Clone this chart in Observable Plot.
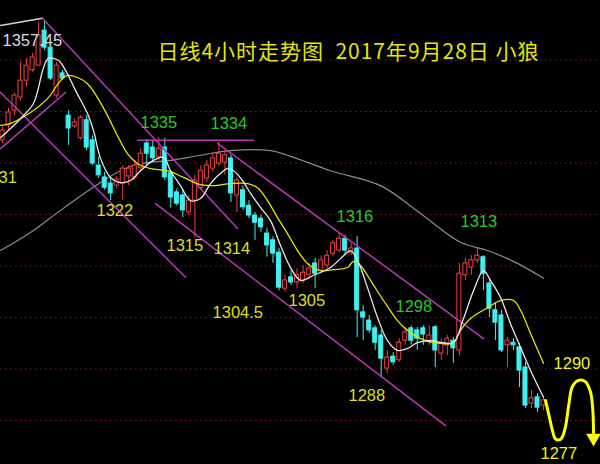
<!DOCTYPE html>
<html>
<head>
<meta charset="utf-8">
<script src="https://cdn.jsdelivr.net/npm/d3@7"></script>
<script src="https://cdn.jsdelivr.net/npm/@observablehq/plot@0.6"></script>
<style>
  html, body { margin: 0; padding: 0; background: #000; }
  #chart { width: 600px; height: 464px; overflow: hidden; }
</style>
</head>
<body>
<div id="chart"></div>
<script>
// ---- 4-hour candles (price, USD/oz) ----
const open  = [1334.4,1337.3,1340.2,1342.7,1346.0,1348.0,1348.9,1355.7,1352.4,1343.1,
               1347.4,1339.2,1337.1,1334.8,1338.3,1334.4,1329.5,1327.2,1326.0,1325.6,
               1326.0,1327.4,1327.2,1329.1,1333.8,1333.0,1331.1,1333.0,1328.0,1324.3,
               1323.7,1320.4,1322.7,1325.2,1327.0,1328.9,1329.9,1330.1,1330.9,1323.7,
               1324.7,1321.7,1319.8,1319.2,1316.3,1315.0,1312.6,1305.6,1307.8,1306.8,
               1307.2,1308.3,1310.5,1309.1,1310.1,1312.4,1313.0,1315.3,1312.6,1313.4,
               1301.0,1299.4,1297.9,1296.5,1290.1,1292.4,1291.7,1295.5,1297.9,1297.5,
               1297.9,1295.5,1298.1,1293.0,1294.6,1295.5,1293.6,1308.2,1309.7,1311.1,
               1311.7,1306.6,1301.4,1300.4,1294.6,1295.1,1294.2,1290.3,1283.3,1284.5,
               1282.9];
const high  = [1337.0,1340.6,1343.5,1349.5,1350.3,1351.3,1357.3,1357.45,1352.8,1349.5,
               1348.0,1340.2,1338.6,1339.2,1339.2,1335.3,1331.1,1328.2,1327.0,1327.4,
               1329.5,1329.5,1330.5,1332.8,1334.6,1334.4,1335.0,1334.8,1328.5,1325.0,
               1324.7,1323.7,1327.6,1329.5,1330.5,1332.0,1334.0,1332.4,1331.5,1327.2,
               1325.6,1322.7,1320.4,1319.8,1317.3,1315.7,1313.4,1308.2,1309.1,1309.5,
               1310.1,1310.5,1311.5,1312.0,1313.0,1315.0,1316.3,1315.9,1314.4,1315.7,
               1302.3,1300.4,1298.4,1297.5,1293.6,1293.2,1295.9,1297.9,1298.4,1298.1,
               1298.4,1298.4,1298.4,1295.9,1296.5,1296.1,1310.5,1311.5,1312.0,1313.6,
               1312.0,1307.6,1302.9,1301.4,1296.1,1295.9,1295.0,1291.3,1285.8,1285.2,
               1284.5];
const low   = [1333.8,1336.3,1339.2,1342.1,1344.7,1347.6,1348.9,1351.8,1346.0,1342.5,
               1346.0,1333.4,1336.7,1334.4,1332.4,1329.5,1327.0,1324.7,1322.7,1325.0,
               1322.7,1325.6,1326.6,1328.5,1329.5,1330.1,1330.5,1326.6,1321.2,1321.6,
               1319.4,1319.8,1315.5,1324.7,1326.2,1328.2,1329.3,1327.6,1322.3,1320.4,
               1320.8,1319.2,1315.0,1316.5,1311.7,1310.5,1305.2,1304.9,1306.2,1305.6,
               1306.6,1307.6,1305.6,1308.5,1309.5,1311.8,1312.6,1312.0,1312.0,1296.1,
               1295.5,1296.9,1293.6,1288.3,1289.1,1290.7,1291.3,1294.6,1294.6,1293.6,
               1294.6,1294.6,1290.3,1291.7,1292.6,1291.1,1292.6,1307.2,1308.2,1310.5,
               1305.2,1300.0,1295.5,1293.2,1290.3,1293.6,1286.4,1282.3,1282.3,1281.6,
               1281.9];
const close = [1336.3,1339.8,1343.1,1346.0,1348.9,1350.5,1354.8,1352.4,1346.4,1348.9,
               1346.4,1336.7,1337.9,1338.8,1333.0,1329.9,1327.6,1325.2,1324.1,1326.8,
               1328.9,1328.9,1329.5,1331.8,1331.8,1330.9,1332.8,1327.2,1323.3,1322.1,
               1320.8,1322.7,1326.6,1328.5,1329.5,1330.9,1331.8,1331.5,1324.1,1326.6,
               1321.4,1319.8,1318.4,1317.5,1314.0,1312.4,1305.8,1307.2,1306.8,1308.2,
               1308.7,1309.5,1308.5,1311.1,1312.0,1314.4,1315.3,1313.0,1313.4,1301.4,
               1300.0,1297.5,1295.1,1292.0,1292.2,1291.3,1295.1,1297.1,1295.5,1295.9,
               1296.7,1296.5,1293.6,1295.0,1295.9,1294.0,1308.5,1310.5,1311.1,1312.0,
               1308.5,1301.7,1299.0,1293.6,1295.5,1294.6,1289.7,1282.9,1284.3,1282.5,
               1283.9];

// ---- moving averages: [bar, price] ----
const maShort = [[-0.33,1334.9],[2.99,1338.6],[5.16,1341.6],[6.82,1348.5],[7.65,1350.3],[9.32,1349.9],
  [10.48,1348.0],[12.14,1344.1],[14.14,1339.6],[15.14,1336.3],[16.30,1330.9],[17.97,1327.2],
  [19.63,1326.2],[21.29,1326.6],[22.96,1328.5],[25.12,1330.5],[26.78,1331.1],[27.95,1328.5],
  [29.61,1325.6],[31.28,1322.7],[32.94,1323.1],[34.60,1326.0],[36.27,1328.0],[37.43,1328.9],
  [38.43,1328.5],[39.93,1326.6],[41.26,1324.1],[42.92,1321.4],[44.59,1318.8],[46.25,1314.0],
  [47.91,1309.7],[49.58,1307.2],[51.74,1308.2],[54.57,1309.7],[56.73,1312.0],[57.89,1313.0],
  [59.06,1311.1],[60.72,1305.8],[62.39,1300.0],[64.05,1295.5],[65.71,1293.6],[67.38,1294.0],
  [69.04,1295.1],[71.20,1295.5],[73.37,1295.1],[75.03,1295.1],[76.69,1299.8],[78.36,1305.2],
  [80.02,1309.1],[81.18,1307.2],[82.85,1303.9],[84.51,1298.8],[86.18,1294.2],[87.84,1289.7],
  [90.00,1284.5]];
const maMid = [[-0.33,1337.3],[1.33,1337.7],[4.66,1339.8],[7.49,1342.5],[9.65,1346.0],[10.81,1347.0],
  [12.48,1346.6],[14.14,1345.4],[15.80,1342.7],[17.47,1339.2],[19.13,1335.3],[20.80,1331.8],
  [22.46,1329.9],[24.62,1328.9],[27.45,1328.5],[30.11,1327.2],[32.94,1325.8],[35.10,1325.6],
  [37.93,1326.0],[40.76,1326.0],[42.42,1325.2],[44.09,1322.7],[45.75,1319.4],[47.41,1316.3],
  [49.08,1313.0],[50.74,1310.5],[52.90,1309.1],[55.07,1309.3],[57.40,1309.7],[58.39,1310.9],
  [59.56,1310.1],[61.22,1307.2],[63.38,1303.3],[65.71,1299.4],[67.38,1297.5],[69.54,1295.9],
  [71.70,1295.1],[74.03,1294.9],[75.03,1295.1],[76.19,1297.5],[77.86,1299.8],[80.69,1301.9],
  [82.85,1303.3],[85.01,1303.3],[86.18,1301.4],[87.84,1296.9],[90.00,1291.1]];
const maLong = [[-0.33,1313.0],[4.66,1316.5],[9.65,1320.8],[16.30,1326.2],[19.63,1328.5],
  [22.96,1329.9],[27.95,1330.5],[32.94,1331.5],[37.93,1332.4],[44.59,1332.4],[47.91,1331.3],
  [54.57,1328.5],[62.89,1325.6],[69.54,1320.2],[76.19,1314.6],[80.69,1313.0],[85.34,1310.7],
  [90.00,1307.6]];

// ---- hand-drawn trend lines: [bar, price] ----
const topLine   = [[-0.33,1356.7],[6.65,1358.1]];
const chan1Up   = [[6.65,1358.1],[39.1,1317.3]];
const chan1Down = [[-0.33,1343.7],[30.44,1307.8]];
const riseLine  = [[-0.33,1332.8],[10.48,1343.7]];
const level1334 = [[22.46,1334.4],[41.76,1334.4]];
const chan2Up   = [[35.77,1333.8],[80.02,1295.9]];
const chan2Down = [[25.45,1322.1],[73.70,1279.0]];

// ---- forecast path ----
const forecast = [[90.33,1283.9],[91.0,1280.5],[91.5,1278.0],[92.0,1276.4],[92.9,1276.4],
  [93.6,1278.5],[94.2,1283.0],[94.8,1286.6],[95.8,1287.8],[96.9,1287.6],[97.8,1285.6],
  [98.2,1282.0],[98.32,1277.6]];
const arrowTip = [[98.32,1276.6]];

// ---- grid levels ----
const gridLevels = [1280,1290,1300,1310,1320,1330,1340,1350];

// ---- annotations (left edge of text at labelBar; "1331" ends at its bar) ----
const labelText  = ["1357.45","1335","1334","1331","1322","1315","1314","1316","1305","1304.5","1298","1313","1288","1290","1277"];
const labelBar   = [0.0,22.96,34.6,2.4,15.64,27.28,35.1,55.57,47.58,34.94,65.38,76.19,57.56,91.67,89.5];
const labelPrice = [1353.8,1337.9,1337.7,1327.2,1320.8,1314.0,1313.4,1319.6,1303.3,1301.0,1302.1,1318.6,1284.9,1291.1,1273.6];
const labelColor = ["#d8d8d8","#28c828","#28c828","#dede20","#dede20","#dede20","#dede20","#28c828","#dede20","#dede20","#28c828","#28c828","#dede20","#f0f020","#f0f020"];
const labelEndAnchored = ["1331"];
const title = "日线4小时走势图  2017年9月28日 小狼";

const RED = "#f04040", CYAN = "#40f0f0", PURPLE = "#b838b8";
const candles = open.map((o, i) => ({i, o, h: high[i], l: low[i], c: close[i], up: close[i] >= o}));
const labels = labelText.map((t, k) => ({t, x: labelBar[k], y: labelPrice[k], col: labelColor[k]}));
const startLabels = labels.filter(d => !labelEndAnchored.includes(d.t));
const endLabels = labels.filter(d => labelEndAnchored.includes(d.t));
const pt = {x: d => d[0], y: d => d[1]};
const numFont = {fontSize: 16.5, fontFamily: "Liberation Sans, Arial, sans-serif"};

const chart = Plot.plot({
  width: 600, height: 464, margin: 0,
  style: {background: "#000", overflow: "hidden"},
  x: {domain: [-0.333, 99.48], range: [0, 600], axis: null},
  y: {domain: [1280, 1360], range: [420, 8], axis: null},
  marks: [
    Plot.ruleY(gridLevels, {stroke: "#8a1818", strokeDasharray: "1.5,3.5", strokeWidth: 1}),
    Plot.line(maLong, {...pt, stroke: "#8c8c8c", strokeWidth: 1.2, curve: "catmull-rom"}),
    Plot.ruleX(candles, {x: "i", y1: "l", y2: "h", stroke: d => d.up ? RED : CYAN, strokeWidth: 1}),
    Plot.rect(candles, {x1: d => d.i - 0.5, x2: d => d.i + 0.5, insetLeft: 1.0, insetRight: 1.0,
      y1: "o", y2: "c", fill: d => d.up ? "#000" : CYAN, stroke: d => d.up ? RED : CYAN, strokeWidth: 1}),
    Plot.line(topLine,   {...pt, stroke: "#e0cce0", strokeWidth: 1.5}),
    Plot.line(chan1Up,   {...pt, stroke: PURPLE, strokeWidth: 1.5}),
    Plot.line(chan1Down, {...pt, stroke: PURPLE, strokeWidth: 1.5}),
    Plot.line(riseLine,  {...pt, stroke: PURPLE, strokeWidth: 1.5}),
    Plot.line(level1334, {...pt, stroke: PURPLE, strokeWidth: 1.5}),
    Plot.line(chan2Up,   {...pt, stroke: PURPLE, strokeWidth: 1.5}),
    Plot.line(chan2Down, {...pt, stroke: PURPLE, strokeWidth: 1.5}),
    Plot.line(maMid,   {...pt, stroke: "#e6e600", strokeWidth: 1.3, curve: "catmull-rom"}),
    Plot.line(maShort, {...pt, stroke: "#e8e8e8", strokeWidth: 1.3, curve: "catmull-rom"}),
    Plot.line(forecast, {...pt, stroke: "#ffff00", strokeWidth: 3, curve: "catmull-rom"}),
    Plot.dot(arrowTip, {...pt, symbol: "triangle", r: 5.5, rotate: 180, fill: "#ffff00", stroke: null}),
    Plot.text(startLabels, {x: "x", y: "y", text: "t", fill: "col", textAnchor: "start", ...numFont}),
    Plot.text(endLabels, {x: "x", y: "y", text: "t", fill: "col", textAnchor: "end", ...numFont}),
    Plot.text([title], {frameAnchor: "top-left", dx: 157, dy: 44, textAnchor: "start",
      fill: "#e6e600", fontSize: 21, fontFamily: "Noto Sans CJK SC, sans-serif"})
  ]
});
// stretch the title to the width it has in the reference
d3.select(chart).selectAll("text").filter(function () { return this.textContent === title; })
  .attr("textLength", 381).attr("lengthAdjust", "spacing");
document.getElementById("chart").appendChild(chart);
</script>
</body>
</html>
